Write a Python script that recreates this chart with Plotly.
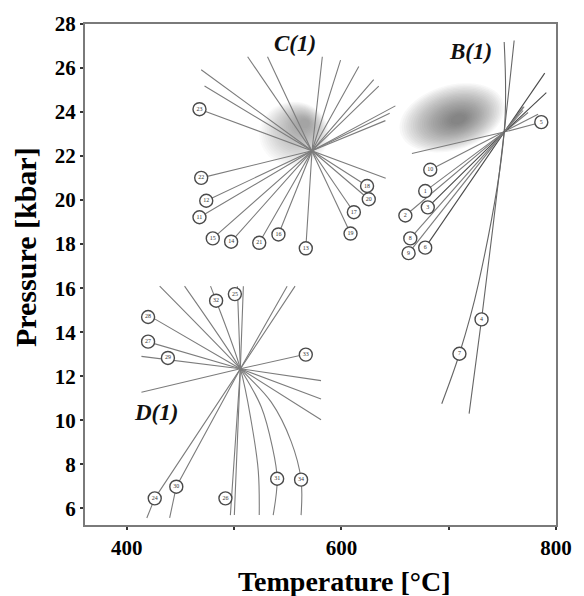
import numpy as np
import plotly.graph_objects as go

# ---------------- data ----------------
# Group C(1)
C_center = (572.6, 22.24)
C_labels = ["23", "22", "12", "11", "15", "14", "21", "16", "13", "19", "17", "18", "20"]
C_lab_T = [467.7, 469.3, 474.0, 467.7, 480.1, 497.2, 523.4, 541.3, 566.8, 608.5, 611.6, 623.9, 625.5]
C_lab_P = [24.13, 21.01, 19.97, 19.22, 18.26, 18.11, 18.06, 18.44, 17.81, 18.48, 19.45, 20.64, 20.04]
C_end_T = [641.3, 641.0, 650.3, 645.0, 634.8, 630.1, 616.2, 599.2, 582.2, 531.1, 512.6, 472.4, 469.3]
C_end_P = [20.99, 23.61, 24.28, 23.94, 25.18, 25.47, 26.07, 26.36, 26.51, 26.51, 26.51, 25.18, 25.92]

# Group B(1)
B_center = (751.7, 23.09)
B_labels = ["5", "10", "1", "3", "2", "8", "6", "9"]
B_lab_T = [786.3, 682.8, 678.1, 680.5, 659.6, 664.2, 678.1, 662.6]
B_lab_P = [23.54, 21.38, 20.41, 19.67, 19.30, 18.26, 17.84, 17.59]
B_end_T = [665.7, 783.3, 774.0, 791.0, 769.3, 769.3, 789.5, 770.3]
B_end_P = [22.12, 23.90, 23.98, 24.88, 24.21, 24.07, 25.77, 24.25]
# steep reactions of B(1)
B_steep = {
    "4": dict(T=[719.0, 730.6, 751.7, 761.0], P=[10.30, 14.58, 23.09, 27.25], lab=(730.6, 14.58)),
    "7": dict(T=[693.5, 710.0, 727.6, 751.7, 751.7], P=[10.75, 13.02, 16.18, 23.09, 27.18], lab=(710.0, 13.02)),
}

# Group D(1)
D_center = (505.8, 12.34)
D_paths = {
    "34": dict(T=[430.6, 505.8, 534.6, 553.1, 562.4, 562.4], P=[16.09, 12.34, 10.82, 9.04, 7.30, 5.69], lab=(562.4, 7.30)),
    "31": dict(T=[453.8, 505.8, 525.3, 535.5, 540.1, 536.4], P=[16.09, 12.34, 10.60, 8.81, 7.34, 5.69], lab=(540.1, 7.34)),
    "32": dict(T=[478.0, 483.2, 505.8, 516.0, 522.5, 523.4], P=[16.09, 15.43, 12.34, 9.93, 7.70, 5.69], lab=(483.2, 15.43)),
    "25": dict(T=[503.0, 505.8, 500.2], P=[16.09, 12.34, 5.69], lab=(500.7, 15.73)),
    "26": dict(T=[508.6, 505.8, 496.5], P=[16.09, 12.34, 5.69], lab=(491.9, 6.45)),
    "24": dict(T=[556.8, 505.8, 426.0, 418.6], P=[16.09, 12.34, 6.45, 5.56], lab=(426.0, 6.45)),
    "30": dict(T=[549.4, 505.8, 446.1, 439.9], P=[16.09, 12.34, 6.98, 5.56], lab=(446.1, 6.98)),
    "28": dict(T=[415.1, 505.8, 581.0], P=[14.91, 12.34, 10.02], lab=(419.8, 14.69)),
    "27": dict(T=[413.6, 505.8, 581.0], P=[13.65, 12.34, 10.96], lab=(419.8, 13.57)),
    "29": dict(T=[413.6, 505.8, 581.0], P=[12.90, 12.34, 11.80], lab=(438.3, 12.83)),
    "33": dict(T=[413.6, 505.8, 571.7], P=[11.27, 12.34, 13.05], lab=(566.8, 12.98)),
}
D_curved = {"34", "31", "32"}

group_names = ["C(1)", "B(1)", "D(1)"]
group_T = [556.8, 719.9, 426.9]
group_P = [27.10, 26.77, 10.35]

x_ticks = [400, 500, 600, 700, 800]
x_ticktext = ["400", "", "600", "", "800"]
y_ticks = list(range(6, 29, 2))
x_range = [361, 800]
y_range = [5.24, 28]
x_title = "Temperature [°C]"
y_title = "Pressure [kbar]"

# ---------------- figure ----------------
LINE = "#7c7c7c"
DARK = "#4a4a4a"
fig = go.Figure()

def add_line(T, P, color=LINE, width=1.1, shape="linear"):
    fig.add_trace(go.Scatter(x=T, y=P, mode="lines", hoverinfo="skip",
                             line=dict(color=color, width=width, shape=shape)))

# C lines
for i in range(len(C_labels)):
    add_line([C_lab_T[i], C_center[0], C_end_T[i]], [C_lab_P[i], C_center[1], C_end_P[i]])
# B lines
for i in range(len(B_labels)):
    col = DARK if B_labels[i] in ("3", "6") else LINE
    add_line([B_lab_T[i], B_center[0], B_end_T[i]], [B_lab_P[i], B_center[1], B_end_P[i]], color=col)
for k, v in B_steep.items():
    add_line(v["T"], v["P"], color="#666666", shape="spline")
# D lines
for k, v in D_paths.items():
    add_line(v["T"], v["P"], shape="spline" if k in D_curved else "linear")

# label circles
lab_T = C_lab_T + B_lab_T + [v["lab"][0] for v in B_steep.values()] + [v["lab"][0] for v in D_paths.values()]
lab_P = C_lab_P + B_lab_P + [v["lab"][1] for v in B_steep.values()] + [v["lab"][1] for v in D_paths.values()]
lab_txt = C_labels + B_labels + list(B_steep.keys()) + list(D_paths.keys())
fig.add_trace(go.Scatter(
    x=lab_T, y=lab_P, mode="markers+text", text=lab_txt, textposition="middle center",
    textfont=dict(size=6, color="#333333", family="Liberation Serif"),
    marker=dict(size=13, color="white", line=dict(color="#4a4a4a", width=1.4)),
    hoverinfo="skip"))

# group names
for name, t, p in zip(group_names, group_T, group_P):
    fig.add_annotation(x=t, y=p, text=name, showarrow=False,
                       font=dict(family="Liberation Serif", size=23, color="#111111",
                                 weight="bold", style="italic"))

# soft grey blobs (stacked translucent ellipses)
plot_w, plot_h = 472, 510
kT = (x_range[1] - x_range[0]) / plot_w
kP = (y_range[1] - y_range[0]) / plot_h

def blob(c0, c1, rx, ry, ang, n, alpha):
    a = np.deg2rad(ang)
    th = np.linspace(0, 2 * np.pi, 56)
    for i in range(n):
        f = 1 - 0.9 * i / n
        cx = c0[0] + (c1[0] - c0[0]) * i / n
        cy = c0[1] + (c1[1] - c0[1]) * i / n
        dx = rx * f * np.cos(th)
        dy = ry * f * np.sin(th)
        xr = dx * np.cos(a) - dy * np.sin(a)
        yr = dx * np.sin(a) + dy * np.cos(a)
        X = cx + xr * kT
        Y = cy + yr * kP
        path = "M " + " L ".join(f"{x:.3f},{y:.4f}" for x, y in zip(X, Y)) + " Z"
        fig.add_shape(type="path", path=path, fillcolor=f"rgba(70,70,70,{alpha})",
                      line=dict(width=0), layer="below")

blob((555.9, 23.0), (566.0, 23.5), 35, 33, 0, 22, 0.028)
blob((703.0, 23.74), (709.0, 23.67), 54, 33, 17, 24, 0.036)

axis_font = dict(family="Liberation Serif", size=21, color="black", weight="bold")
title_font = dict(family="Liberation Serif", size=28, color="black", weight="bold")

# axis titles (placed as in the reference, slightly off-centre)
fig.add_annotation(xref="paper", yref="paper", x=0.551, y=-0.112, text=x_title,
                   showarrow=False, xanchor="center", yanchor="middle", font=title_font)
fig.add_annotation(xref="paper", yref="paper", x=-0.125, y=0.555, text=y_title, textangle=-90,
                   showarrow=False, xanchor="center", yanchor="middle",
                   font=dict(family="Liberation Serif", size=30, color="black", weight="bold"))

fig.update_layout(
    width=584, height=596, margin=dict(l=85, r=27, t=15, b=71),
    plot_bgcolor="white", paper_bgcolor="white", showlegend=False,
    xaxis=dict(range=x_range, tickvals=x_ticks, ticktext=x_ticktext, ticks="outside",
               ticklen=3, tickwidth=1.5, tickcolor="#333333", showline=True, linecolor="#7a7a7a",
               linewidth=2, mirror=True, showgrid=False, zeroline=False, tickfont=axis_font),
    yaxis=dict(range=y_range, tickvals=y_ticks, ticks="outside", ticklen=3, tickwidth=1.5,
               tickcolor="#333333", showline=True, linecolor="#7a7a7a", linewidth=2, mirror=True,
               showgrid=False, zeroline=False, tickfont=axis_font),
)

fig.write_html("out.html")
